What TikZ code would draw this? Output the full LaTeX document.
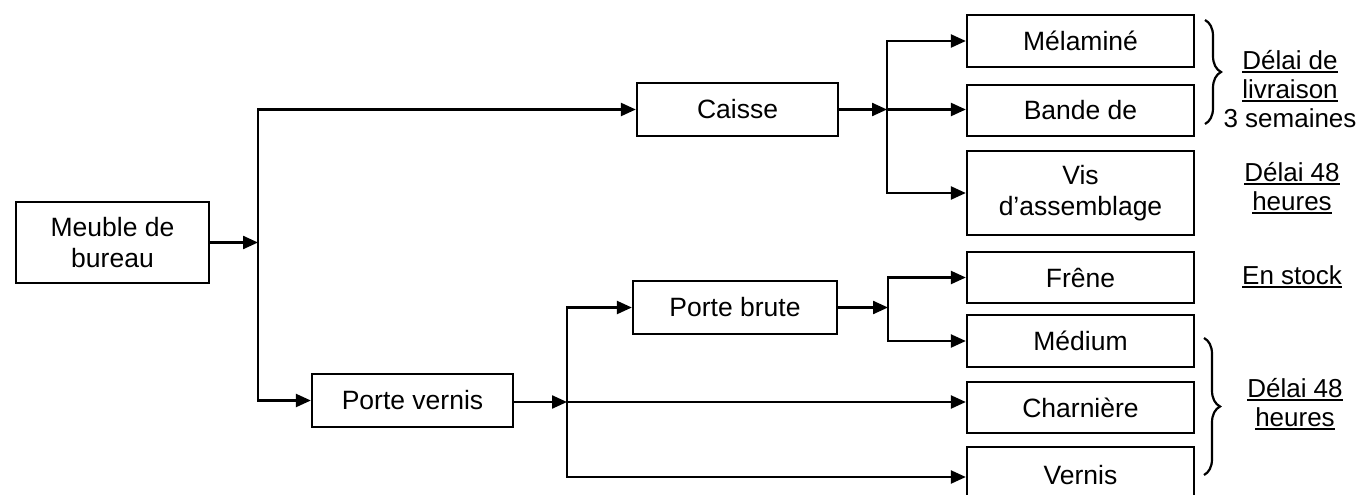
\documentclass[tikz,border=0pt]{standalone}
\usepackage{fontspec}
\setmainfont{Liberation Sans}
\usetikzlibrary{arrows.meta,decorations.pathreplacing}
\newcommand\myul[1]{\setbox0\hbox{#1}\leavevmode\rlap{\rule[-3.5pt]{\wd0}{1.9pt}}\box0}
\begin{document}
\begin{tikzpicture}[x=1pt,y=-1pt,
  box/.style={draw,line width=2.3pt,inner sep=0pt,align=center,font=\fontsize{26.5}{31}\selectfont},
  rbox/.style={box,minimum width=227pt},
  lab/.style={inner sep=0pt,align=center,font=\fontsize{26}{29}\selectfont},
  arr/.style={line width=2.3pt,-{Triangle[length=15pt,width=13pt]}},
  br/.style={line width=2.2pt,decorate,decoration={brace,amplitude=16pt}}]
\useasboundingbox (0,0) rectangle (1366,495);
% boxes
\node[box,minimum width=193pt,minimum height=81pt] (meuble) at (112.5,242.5) {Meuble de\\bureau};
\node[box,minimum width=201pt,minimum height=53pt] (caisse) at (737.5,109.5) {Caisse};
\node[box,minimum width=201pt,minimum height=53pt] (pv) at (412.5,400.5) {Porte vernis};
\node[box,minimum width=204pt,minimum height=53pt] (pb) at (735,307.5) {Porte brute};
\node[rbox,minimum height=52pt] (mel) at (1080.5,41) {Mélaminé};
\node[rbox,minimum height=51pt] (bande) at (1080.5,110.5) {Bande de};
\node[rbox,minimum height=84pt] (vis) at (1080.5,193) {Vis\\d’assemblage};
\node[rbox,minimum height=51pt] (frene) at (1080.5,277.5) {Frêne};
\node[rbox,minimum height=52pt] (medium) at (1080.5,341) {Médium};
\node[rbox,minimum height=51pt] (charn) at (1080.5,407.5) {Charnière};
\node[rbox,minimum height=56pt] (vern) at (1080.5,475) {Vernis};
% junctions
\coordinate (j1) at (258,242.5);
\coordinate (j2) at (887,109.5);
\coordinate (j3) at (567,402);
\coordinate (j4) at (888,307.5);
% connectors
\draw[arr] (meuble) -- (j1);
\draw[arr] (j1) |- (caisse.west);
\draw[arr] (j1) |- (pv.west);
\draw[arr] (caisse) -- (j2);
\draw[arr] (j2) |- (mel.west);
\draw[arr] (j2) -- (j2 -| bande.west);
\draw[arr] (j2) |- (vis.west);
\draw[arr] (pv.east |- j3) -- (j3);
\draw[arr] (j3) |- (pb.west);
\draw[arr] (j3) -- (j3 -| charn.west);
\draw[arr] (j3) |- ([yshift=-2pt]vern.west);
\draw[arr] (pb) -- (j4);
\draw[arr] (j4) |- (frene.west);
\draw[arr] (j4) |- (medium.west);
% labels
\node[lab] (l1) at (1290,89) {\myul{Délai de}\\\myul{livraison}\\3 semaines};
\node[lab] (l2) at (1292,188) {\myul{Délai 48}\\\myul{heures}};
\node[lab] (l3) at (1292,277) {\myul{En stock}};
\node[lab] (l4) at (1295,404) {\myul{Délai 48}\\\myul{heures}};
% braces
\draw[br] (1205,20) -- (1205,124);
\draw[br] (1204,338) -- (1204,475);
\end{tikzpicture}
\end{document}
